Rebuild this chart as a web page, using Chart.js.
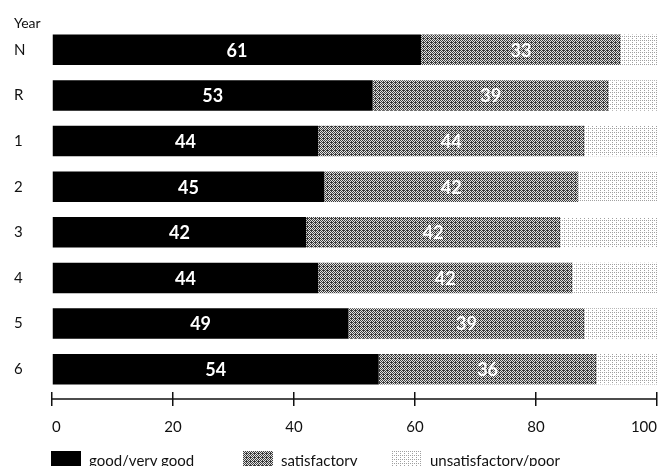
<!DOCTYPE html>
<html>
<head>
<meta charset="utf-8">
<script src="https://cdn.jsdelivr.net/npm/chart.js@4"></script>
<style>
  html, body { margin: 0; padding: 0; background: #fff; }
  #wrap { position: relative; width: 663px; height: 466px; overflow: hidden; }
  #legend { position: absolute; top: 451px; left: 0; width: 663px; height: 20px;
            font-family: Lato, "Open Sans", sans-serif; font-size: 15px; color: #111; }
  .item { position: absolute; top: 0; height: 18px; line-height: 18px; white-space: nowrap; }
  .box { display: inline-block; width: 30px; height: 18px; vertical-align: top; margin-right: 8px; }
</style>
</head>
<body>
<div id="wrap">
  <canvas id="chart" width="663" height="466"></canvas>
  <div id="legend"></div>
</div>
<script>
const years = ['N', 'R', '1', '2', '3', '4', '5', '6'];
const good = [61, 53, 44, 45, 42, 44, 49, 54];
const satisfactory = [33, 39, 44, 42, 42, 42, 39, 36];
const poor = [6, 8, 12, 13, 16, 14, 12, 10];
const xTicks = [0, 20, 40, 60, 80, 100];
const seriesNames = ['good/very good', 'satisfactory', 'unsatisfactory/poor'];

const FONT = 'Lato, "Open Sans", sans-serif';

// small stipple tiles to imitate the printed screens
function makeTile(size, bg, fg, isDot) {
  const c = document.createElement('canvas');
  c.width = c.height = size;
  const g = c.getContext('2d');
  g.fillStyle = bg;
  g.fillRect(0, 0, size, size);
  g.fillStyle = fg;
  for (let y = 0; y < size; y++) {
    for (let x = 0; x < size; x++) {
      if (isDot(x, y)) g.fillRect(x, y, 1, 1);
    }
  }
  return c;
}

const midTile = makeTile(4, '#e2e2e2', '#3c3c3c', (x, y) => (x + y) % 2 === 0 || (x === 3 && y === 2));
const lightTile = makeTile(4, '#ffffff', '#a0a0a0', (x, y) => x % 2 === 0 && y % 2 === 0 && !(x === 2 && y === 2));

const ctx = document.getElementById('chart').getContext('2d');
const midPattern = ctx.createPattern(midTile, 'repeat');
const lightPattern = ctx.createPattern(lightTile, 'repeat');

const fills = ['#000000', midPattern, lightPattern];
const swatches = ['#000000', 'url(' + midTile.toDataURL() + ')', 'url(' + lightTile.toDataURL() + ')'];

// "Year" heading over the category labels
const yearTitle = {
  id: 'yearTitle',
  afterDraw(chart) {
    const c = chart.ctx;
    c.save();
    c.font = '14px ' + FONT;
    c.fillStyle = '#111';
    c.textAlign = 'left';
    c.textBaseline = 'middle';
    c.fillText('Year', chart.scales.y.left, 23);
    c.restore();
  }
};

// axis line running through the middle of the tick marks
const axisLine = {
  id: 'axisLine',
  afterDraw(chart) {
    const xs = chart.scales.x;
    const yMid = xs.top + xs.options.grid.tickLength / 2;
    const c = chart.ctx;
    c.save();
    c.strokeStyle = '#111';
    c.lineWidth = 1.5;
    c.beginPath();
    c.moveTo(xs.left, yMid);
    c.lineTo(xs.right, yMid);
    c.stroke();
    c.restore();
  }
};

// white value labels inside the first two segments
const barValues = {
  id: 'barValues',
  afterDatasetsDraw(chart) {
    const c = chart.ctx;
    c.save();
    c.font = 'bold 18px ' + FONT;
    c.fillStyle = '#ffffff';
    c.textAlign = 'center';
    c.textBaseline = 'middle';
    [0, 1].forEach(di => {
      const meta = chart.getDatasetMeta(di);
      const data = chart.data.datasets[di].data;
      meta.data.forEach((bar, i) => {
        const cx = (bar.x + bar.base) / 2;
        c.fillText(String(data[i]), cx, bar.y + 1);
      });
    });
    c.restore();
  }
};

new Chart(ctx, {
  type: 'bar',
  data: {
    labels: years,
    datasets: [good, satisfactory, poor].map((d, i) => ({
      label: seriesNames[i],
      data: d,
      backgroundColor: fills[i],
      borderWidth: 0,
      categoryPercentage: 1,
      barPercentage: 0.67
    }))
  },
  options: {
    indexAxis: 'y',
    responsive: false,
    animation: false,
    layout: { padding: { left: 14, top: 27, right: 6, bottom: 18 } },
    plugins: {
      legend: { display: false },
      tooltip: { enabled: false }
    },
    scales: {
      x: {
        stacked: true,
        min: 0,
        max: 100,
        afterBuildTicks(axis) { axis.ticks = xTicks.map(v => ({ value: v })); },
        afterFit(axis) { axis.paddingLeft = 0; axis.paddingRight = 0; },
        grid: { drawOnChartArea: false, drawTicks: true, tickLength: 14, color: '#111', lineWidth: 1.5 },
        border: { display: false },
        ticks: { color: '#111', font: { family: FONT, size: 15 }, padding: 12, align: 'inner', maxRotation: 0 }
      },
      y: {
        stacked: true,
        grid: { display: false, drawTicks: false },
        border: { display: false },
        afterFit(axis) { axis.width = 38; },
        ticks: { color: '#111', font: { family: FONT, size: 15 }, crossAlign: 'far', padding: 0 }
      }
    }
  },
  plugins: [yearTitle, axisLine, barValues]
});

// legend row under the axis
const legend = document.getElementById('legend');
const legendLeft = [51, 243, 392];
seriesNames.forEach((name, i) => {
  const item = document.createElement('div');
  item.className = 'item';
  item.style.left = legendLeft[i] + 'px';
  const box = document.createElement('span');
  box.className = 'box';
  box.style.background = swatches[i];
  item.appendChild(box);
  item.appendChild(document.createTextNode(name));
  legend.appendChild(item);
});
</script>
</body>
</html>
